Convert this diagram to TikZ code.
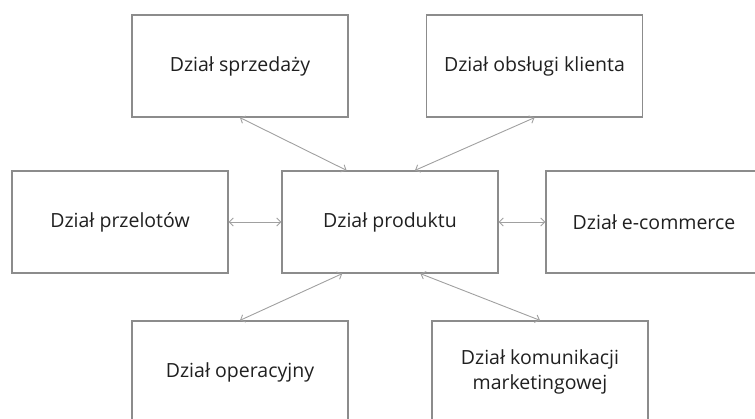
\documentclass[tikz,border=0pt]{standalone}
\usepackage{fontspec}
\setmainfont{Open Sans}
\usetikzlibrary{arrows.meta,calc}
\definecolor{boxline}{HTML}{8C8C8C}
\definecolor{arrowline}{HTML}{A0A0A0}
\definecolor{txt}{HTML}{202020}
\begin{document}
\begin{tikzpicture}[x=1pt,y=-1pt,
  dept/.style={draw=boxline,line width=1.3pt,fill=white,minimum width=216pt,
    minimum height=102pt,inner sep=0pt,text=txt,
    font=\fontsize{19.5}{25}\selectfont,align=center},
  link/.style={draw=arrowline,line width=0.9pt,
    {Straight Barb[length=4pt,width=8pt]}-{Straight Barb[length=4pt,width=8pt]}}]
\useasboundingbox (0,0) rectangle (755,419);
\clip (0,0) rectangle (755,419);
% departments
\node[dept] (sales)   at (240,66)    {Dział sprzedaży};
\node[dept] (care)    at (534.5,66)  {Dział obsługi klienta};
\node[dept] (flights) at (120,222)   {Dział przelotów};
\node[dept] (product) at (390,222)   {Dział produktu};
\node[dept] (ecom)    at (654,222)   {Dział e-commerce};
\node[dept] (ops)     at (240,372)   {Dział operacyjny};
\node[dept] (mkt)     at (540,372)   {Dział komunikacji\\marketingowej};
% links to the product department
\draw[link] (sales.south) -- ($(product.north west)!0.30!(product.north east)$);
\draw[link] (care.south) -- ($(product.north west)!0.615!(product.north east)$);
\draw[link] (flights.east) -- (product.west);
\draw[link] (product.east) -- (ecom.west);
\draw[link] (ops.north) -- ($(product.south west)!0.28!(product.south east)$);
\draw[link] (mkt.north) -- ($(product.south west)!0.64!(product.south east)$);
\end{tikzpicture}
\end{document}
